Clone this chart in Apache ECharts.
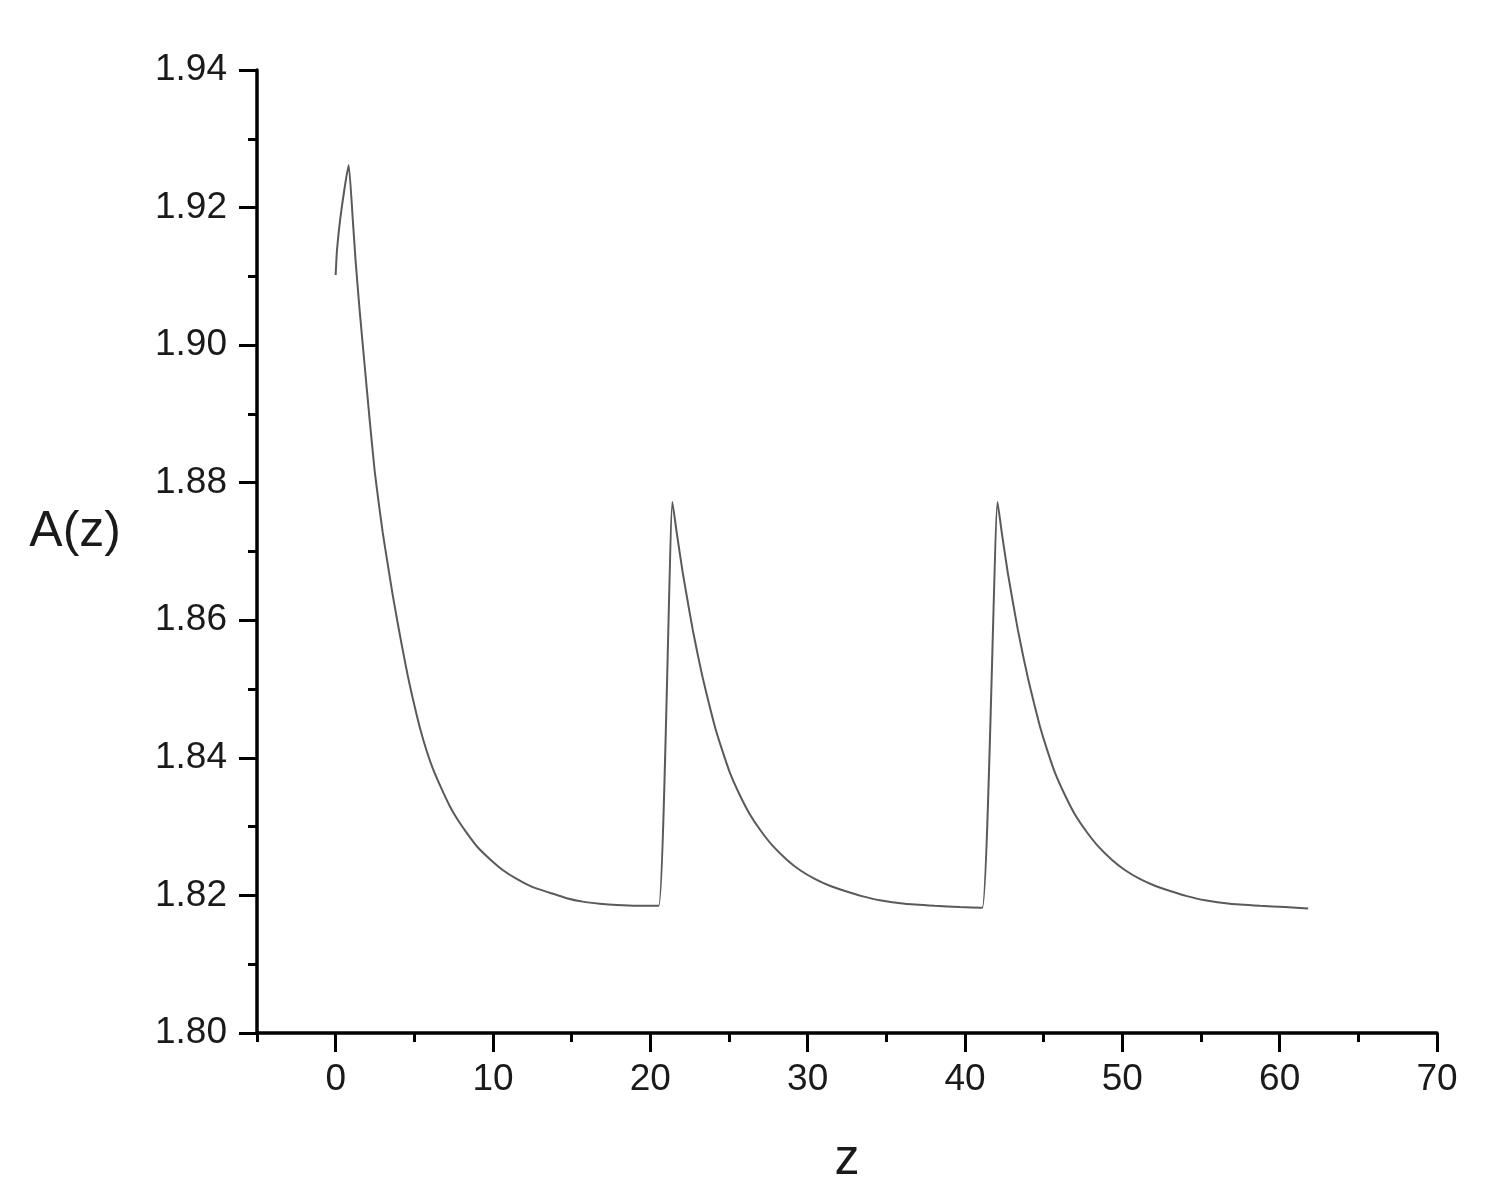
<!DOCTYPE html>
<html>
<head>
<meta charset="utf-8">
<title>A(z)</title>
<script src="https://cdn.jsdelivr.net/npm/echarts@6/dist/echarts.min.js"></script>
<style>
  html, body { margin: 0; padding: 0; background: #fff; }
  #chart { width: 1490px; height: 1201px; }
</style>
</head>
<body>
<div id="chart"></div>
<script>
// values
const zValues = [
  // first hump
  0, 0.083, 0.362, 0.826, 1.081, 1.272, 1.526, 1.844, 2.162, 2.48, 2.734, 2.988, 3.306, 3.624,
  3.942, 4.26, 4.577, 4.895, 5.34, 5.785, 6.167, 6.612, 7.248, 7.756, 8.329, 9.028, 9.791,
  10.617, 11.507, 12.525, 13.605, 14.686, 15.703, 16.784, 17.865, 19.2, 20.535,
  // second hump
  21.406, 21.68, 22.061, 22.379, 22.697, 23.015, 23.333, 23.714, 24.096, 24.541, 25.049,
  25.685, 26.321, 27.02, 27.783, 28.673, 29.5, 30.453, 31.407, 32.424, 33.442, 34.586,
  36.175, 38.083, 39.672, 41.1,
  // third hump
  42.07, 42.34, 42.72, 43.04, 43.36, 43.68, 44.0, 44.38, 44.76, 45.2, 45.71, 46.35, 46.98,
  47.68, 48.44, 49.33, 50.16, 51.11, 52.07, 53.09, 54.1, 55.25, 56.84, 58.75, 60.33, 61.81
];
const aValues = [
  1.9102, 1.9138, 1.9196, 1.9262, 1.9185, 1.9121, 1.9050, 1.8970, 1.8891, 1.8817, 1.8771, 1.8728, 1.8682, 1.8637,
  1.8596, 1.8557, 1.8520, 1.8487, 1.8445, 1.8410, 1.8385, 1.8361, 1.8330, 1.8310, 1.8291, 1.8270, 1.8253,
  1.8237, 1.8224, 1.8212, 1.8204, 1.8196, 1.8191, 1.8188, 1.8186, 1.8185, 1.8185,
  1.8772, 1.8727, 1.8669, 1.8627, 1.8586, 1.8550, 1.8516, 1.8480, 1.8446, 1.8413, 1.8379,
  1.8346, 1.8318, 1.8294, 1.8272, 1.8252, 1.8237, 1.8224, 1.8214, 1.8206, 1.8199, 1.8193,
  1.8188, 1.8185, 1.8183, 1.8182,
  1.8772, 1.8727, 1.8669, 1.8627, 1.8586, 1.8550, 1.8516, 1.8480, 1.8446, 1.8413, 1.8379, 1.8346, 1.8318,
  1.8294, 1.8272, 1.8252, 1.8237, 1.8224, 1.8214, 1.8206, 1.8199, 1.8193, 1.8188, 1.8185, 1.8183, 1.8181
];
const xMajorTicks = [0, 10, 20, 30, 40, 50, 60, 70];

const font = 'Liberation Sans, Arial, sans-serif';
const textColor = '#1a1a1a';

const chart = echarts.init(document.getElementById('chart'));

chart.setOption({
  backgroundColor: '#fff',
  animation: false,
  grid: { left: 257, right: 53, top: 70, bottom: 168 },
  xAxis: [
    {
      type: 'value',
      position: 'bottom',
      min: -5,
      max: 70,
      interval: 5,
      name: 'z',
      nameLocation: 'middle',
      nameGap: 102,
      nameTextStyle: { fontFamily: font, fontSize: 50, color: textColor },
      splitLine: { show: false },
      axisLine: { onZero: false, lineStyle: { color: '#000', width: 3.5 } },
      axisTick: { length: 9, lineStyle: { color: '#000', width: 3 } },
      axisLabel: {
        margin: 28,
        fontFamily: font,
        fontSize: 37,
        color: textColor,
        formatter: v => (v % 10 === 0 ? String(v) : '')
      }
    },
    {
      // long ticks at the labelled values
      type: 'value',
      position: 'bottom',
      min: -5,
      max: 70,
      splitLine: { show: false },
      axisLine: { show: false, onZero: false },
      axisLabel: { show: false },
      axisTick: {
        length: 19,
        customValues: xMajorTicks,
        lineStyle: { color: '#000', width: 3 }
      }
    }
  ],
  yAxis: {
    type: 'value',
    min: 1.80,
    max: 1.94,
    interval: 0.02,
    name: 'A(z)',
    nameLocation: 'middle',
    nameRotate: 0,
    nameGap: 136,
    nameTextStyle: {
      fontFamily: font,
      fontSize: 50,
      color: textColor,
      verticalAlign: 'bottom',
      lineHeight: 38
    },
    splitLine: { show: false },
    axisLine: { show: true, onZero: false, lineStyle: { color: '#000', width: 3.5 } },
    axisTick: { show: true, length: 18, lineStyle: { color: '#000', width: 3 } },
    minorTick: { show: true, splitNumber: 2, length: 9, lineStyle: { color: '#000', width: 3 } },
    axisLabel: {
      margin: 30,
      fontFamily: font,
      fontSize: 37,
      color: textColor,
      formatter: v => v.toFixed(2)
    }
  },
  series: [
    {
      type: 'line',
      xAxisIndex: 0,
      data: zValues.map((z, i) => [z, aValues[i]]),
      showSymbol: false,
      smooth: 0.15,
      lineStyle: { color: '#5a5a5a', width: 2 }
    }
  ]
});

window.onresize = () => chart.resize();
</script>
</body>
</html>
